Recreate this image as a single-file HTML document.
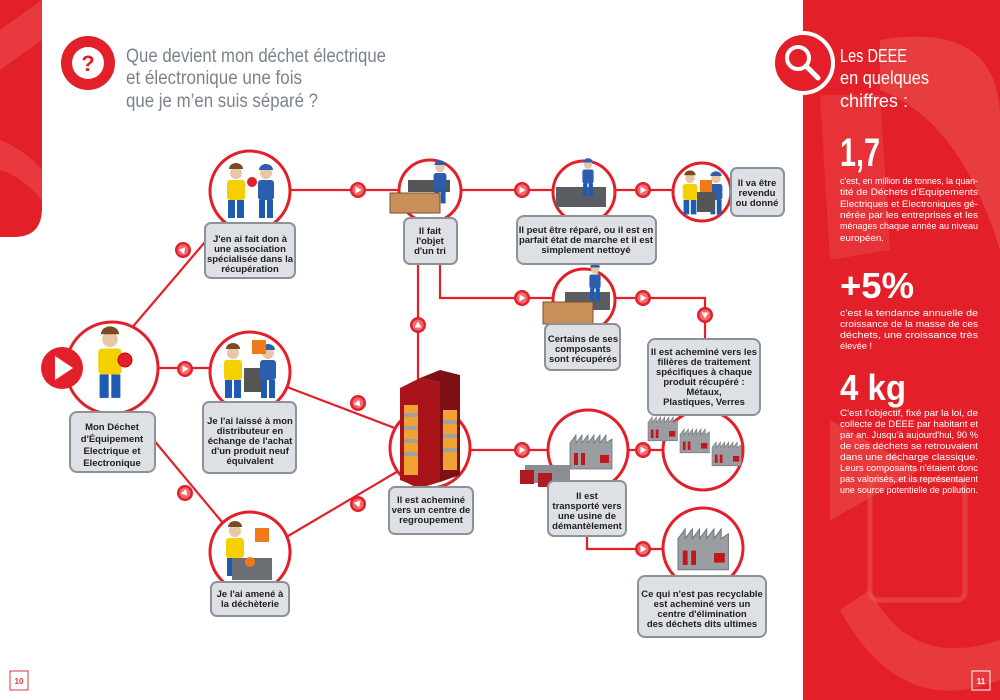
<!DOCTYPE html>
<html><head><meta charset="utf-8"><style>
html,body{margin:0;padding:0;background:#fff}
svg{display:block}
.bx{fill:#dde0e5;stroke:#8b929a;stroke-width:2}
.bt{font-family:"Liberation Sans",sans-serif;font-weight:bold;font-size:9.5px;fill:#1e1e1e;text-anchor:middle}
.ln{stroke:#e3202a;stroke-width:2.2;fill:none}
.cr{fill:#fff;stroke:#e3202a;stroke-width:3}
.wt{font-family:"Liberation Sans",sans-serif;fill:#fff}
.pt{font-family:"Liberation Sans",sans-serif;fill:#fff;font-size:9.5px}
</style></head><body>
<svg width="1000" height="700" viewBox="0 0 1000 700" xmlns="http://www.w3.org/2000/svg">
<defs>
<g id="ar"><circle r="8" fill="#e3202a"/><circle r="5.5" fill="#f06a70"/><path d="M-2.5,-3.5 L3.5,0 L-2.5,3.5Z" fill="#fff"/></g>
<g id="man"><circle cx="0" cy="-22" r="6" fill="#e8c7a5"/><path d="M-7,-26 a7,6 0 0 1 14,0z" fill="#7a4a22"/><rect x="-9" y="-15" width="18" height="20" rx="3" fill="#f5d000"/><rect x="-8" y="5" width="7" height="18" fill="#1d5bb5"/><rect x="1" y="5" width="7" height="18" fill="#1d5bb5"/></g>
<g id="wkr"><circle cx="0" cy="-22" r="6" fill="#e8c7a5"/><path d="M-7,-25 a7,6 0 0 1 14,0z" fill="#2b5fae"/><rect x="-8" y="-15" width="16" height="20" rx="3" fill="#2b5fae"/><rect x="-7" y="5" width="6" height="18" fill="#1d5bb5"/><rect x="1" y="5" width="6" height="18" fill="#1d5bb5"/></g>
<g id="fac"><path d="M0,0 L0,-22 L6,-30 L6,-22 L12,-30 L12,-22 L18,-30 L18,-22 L24,-30 L24,-22 L30,-30 L30,-22 L36,-30 L36,-22 L42,-26 L42,4 L0,4Z" fill="#9a9ea3" stroke="#6d7176" stroke-width="0.8"/><rect x="4" y="-12" width="4" height="12" fill="#c0161d"/><rect x="11" y="-12" width="4" height="12" fill="#c0161d"/><rect x="30" y="-10" width="9" height="8" fill="#c0161d"/></g>
</defs>

<!-- left strip -->
<path d="M0,0 H42 V208 Q42,237 14,237 H0Z" fill="#e3202a"/>
<path d="M0,30 L42,0 V40 L0,70Z M0,140 Q25,150 42,170 V200 Q20,175 0,170Z" fill="#ef6b63" opacity="0.35"/>

<!-- right panel -->
<rect x="803" y="0" width="197" height="700" fill="#e3202a"/>
<path d="M880,40 Q1000,20 1000,120 V250 Q960,120 880,90Z" fill="#ee5a52" opacity="0.5"/>
<path d="M820,95 L880,95 L890,250 L830,260Z" fill="#ee5a52" opacity="0.35"/>
<path d="M830,420 L920,470 L830,520Z" fill="#ee5a52" opacity="0.45"/>
<path d="M840,610 Q900,720 1000,680 V640 Q910,670 870,590Z" fill="#ee5a52" opacity="0.45"/>
<rect x="870" y="480" width="95" height="120" rx="8" fill="none" stroke="#ee5a52" stroke-width="5" opacity="0.5"/>

<!-- magnifier -->
<circle cx="803" cy="63" r="30" fill="#e3202a" stroke="#fff" stroke-width="4"/>
<circle cx="798" cy="58" r="11" fill="none" stroke="#fff" stroke-width="4"/>
<path d="M806,66 L818,78" stroke="#fff" stroke-width="5" stroke-linecap="round"/>

<text class="wt" x="840" y="62" font-size="18" textLength="67" lengthAdjust="spacingAndGlyphs">Les DEEE</text>
<text class="wt" x="840" y="84" font-size="18" textLength="89" lengthAdjust="spacingAndGlyphs">en quelques</text>
<text class="wt" x="840" y="107" font-size="18" textLength="68" lengthAdjust="spacingAndGlyphs">chiffres :</text>

<text class="wt" x="840" y="166" font-size="40" font-weight="bold" textLength="40" lengthAdjust="spacingAndGlyphs">1,7</text>
<text class="pt" x="840" y="184" textLength="138" lengthAdjust="spacingAndGlyphs">c'est, en million de tonnes, la quan-</text>
<text class="pt" x="840" y="195" textLength="138" lengthAdjust="spacingAndGlyphs">tité de Déchets d'Equipements</text>
<text class="pt" x="840" y="207" textLength="138" lengthAdjust="spacingAndGlyphs">Electriques et Electroniques gé-</text>
<text class="pt" x="840" y="218" textLength="138" lengthAdjust="spacingAndGlyphs">nérée par les entreprises et les</text>
<text class="pt" x="840" y="229" textLength="138" lengthAdjust="spacingAndGlyphs">ménages chaque année au niveau</text>
<text class="pt" x="840" y="241" textLength="44" lengthAdjust="spacingAndGlyphs">européen.</text>

<text class="wt" x="840" y="298" font-size="36" font-weight="bold" textLength="74" lengthAdjust="spacingAndGlyphs">+5%</text>
<text class="pt" x="840" y="316" textLength="138" lengthAdjust="spacingAndGlyphs">c'est la tendance annuelle de</text>
<text class="pt" x="840" y="327" textLength="138" lengthAdjust="spacingAndGlyphs">croissance de la masse de ces</text>
<text class="pt" x="840" y="338" textLength="138" lengthAdjust="spacingAndGlyphs">déchets, une croissance très</text>
<text class="pt" x="840" y="349" textLength="32" lengthAdjust="spacingAndGlyphs">élevée !</text>

<text class="wt" x="840" y="400" font-size="36" font-weight="bold" textLength="66" lengthAdjust="spacingAndGlyphs">4 kg</text>
<text class="pt" x="840" y="416" textLength="138" lengthAdjust="spacingAndGlyphs">C'est l'objectif, fixé par la loi, de</text>
<text class="pt" x="840" y="427" textLength="138" lengthAdjust="spacingAndGlyphs">collecte de DEEE par habitant et</text>
<text class="pt" x="840" y="438" textLength="138" lengthAdjust="spacingAndGlyphs">par an. Jusqu'à aujourd'hui, 90 %</text>
<text class="pt" x="840" y="449" textLength="138" lengthAdjust="spacingAndGlyphs">de ces déchets se retrouvaient</text>
<text class="pt" x="840" y="460" textLength="138" lengthAdjust="spacingAndGlyphs">dans une décharge classique.</text>
<text class="pt" x="840" y="471" textLength="138" lengthAdjust="spacingAndGlyphs">Leurs composants n'étaient donc</text>
<text class="pt" x="840" y="482" textLength="138" lengthAdjust="spacingAndGlyphs">pas valorisés, et ils représentaient</text>
<text class="pt" x="840" y="493" textLength="138" lengthAdjust="spacingAndGlyphs">une source potentielle de pollution.</text>

<rect x="972" y="671" width="18" height="19" fill="none" stroke="#fff" stroke-width="1"/>
<text class="wt" x="981" y="684" font-size="8" font-weight="bold" text-anchor="middle">11</text>
<rect x="10" y="671" width="18" height="19" fill="none" stroke="#d23a40" stroke-width="1"/>
<text x="19" y="684" font-size="8" font-weight="bold" text-anchor="middle" fill="#d23a40" font-family="Liberation Sans,sans-serif">10</text>

<!-- title -->
<circle cx="88" cy="63" r="27" fill="#e3202a"/>
<circle cx="88" cy="63" r="16" fill="#fff"/>
<text x="88" y="71" font-size="22" font-weight="bold" fill="#e3202a" text-anchor="middle" font-family="Liberation Sans,sans-serif">?</text>
<g font-family="Liberation Sans,sans-serif" font-size="19" fill="#7a838d">
<text x="126" y="62" textLength="260" lengthAdjust="spacingAndGlyphs">Que devient mon déchet électrique</text>
<text x="126" y="84" textLength="176" lengthAdjust="spacingAndGlyphs">et électronique une fois</text>
<text x="126" y="107" textLength="192" lengthAdjust="spacingAndGlyphs">que je m’en suis séparé ?</text>
</g>

<!-- lines -->
<g class="ln">
<path d="M130,330 L222,222"/>
<path d="M158,368 H212"/>
<path d="M127,408 L222,522"/>
<path d="M290,190 H400"/>
<path d="M287,387 L400,430"/>
<path d="M288,536 L400,470"/>
<path d="M418,382 V262"/>
<path d="M460,190 H553"/>
<path d="M615,190 H674"/>
<path d="M440,262 V298 H555"/>
<path d="M612,298 H705 V340"/>
<path d="M470,450 H548"/>
<path d="M628,450 H665"/>
<path d="M587,536 V549 H665"/>
</g>

<!-- circles -->
<circle class="cr" cx="112" cy="368" r="46"/>
<circle class="cr" cx="250" cy="191" r="40"/>
<circle class="cr" cx="250" cy="372" r="40"/>
<circle class="cr" cx="250" cy="552" r="40"/>
<circle class="cr" cx="430" cy="191" r="31"/>
<circle class="cr" cx="430" cy="448" r="40"/>
<circle class="cr" cx="584" cy="192" r="31"/>
<circle class="cr" cx="702" cy="192" r="29"/>
<circle class="cr" cx="584" cy="300" r="31"/>
<circle class="cr" cx="588" cy="450" r="40"/>
<circle class="cr" cx="703" cy="450" r="40"/>
<circle class="cr" cx="703" cy="548" r="40"/>

<!-- play -->
<circle cx="62" cy="368" r="21" fill="#e3202a"/>
<path d="M55,356 L73,368 L55,380Z" fill="#fff"/>

<!-- arrows -->
<use href="#ar" transform="translate(183,250) rotate(-50)"/>
<use href="#ar" transform="translate(185,369)"/>
<use href="#ar" transform="translate(185,493) rotate(50)"/>
<use href="#ar" transform="translate(358,190)"/>
<use href="#ar" transform="translate(358,403) rotate(-70)"/>
<use href="#ar" transform="translate(358,504) rotate(70)"/>
<use href="#ar" transform="translate(418,325) rotate(-90)"/>
<use href="#ar" transform="translate(522,190)"/>
<use href="#ar" transform="translate(643,190)"/>
<use href="#ar" transform="translate(522,298)"/>
<use href="#ar" transform="translate(643,298)"/>
<use href="#ar" transform="translate(705,315) rotate(90)"/>
<use href="#ar" transform="translate(522,450)"/>
<use href="#ar" transform="translate(643,450)"/>
<use href="#ar" transform="translate(643,549)"/>

<!-- icons -->
<use href="#man" transform="translate(110,368) scale(1.3)"/>
<circle cx="125" cy="360" r="7" fill="#e3202a" stroke="#c00" stroke-width="1"/>
<use href="#man" transform="translate(236,195)"/>
<use href="#wkr" transform="translate(266,195)"/>
<circle cx="252" cy="182" r="5" fill="#e3202a"/>
<use href="#man" transform="translate(233,375)"/>
<rect x="244" y="368" width="18" height="24" fill="#555"/>
<use href="#wkr" transform="translate(268,375)"/>
<rect x="252" y="340" width="14" height="14" fill="#f07a1a"/>
<use href="#man" transform="translate(235,553)"/>
<rect x="232" y="558" width="40" height="22" fill="#6b6f74"/>
<circle cx="250" cy="562" r="5" fill="#f07a1a"/>
<rect x="255" y="528" width="14" height="14" fill="#f07a1a"/>
<rect x="408" y="180" width="42" height="12" fill="#555"/>
<use href="#wkr" transform="translate(440,185) scale(0.8)"/>
<rect x="390" y="193" width="50" height="20" fill="#c89058" stroke="#7a5030"/>
<rect x="556" y="187" width="50" height="20" fill="#5a5e63"/>
<use href="#wkr" transform="translate(588,180) scale(0.7)"/>
<use href="#man" transform="translate(690,196) scale(0.8)"/>
<use href="#wkr" transform="translate(716,196) scale(0.8)"/>
<rect x="697" y="192" width="18" height="20" fill="#555"/>
<rect x="700" y="180" width="12" height="12" fill="#f07a1a"/>
<rect x="565" y="292" width="45" height="18" fill="#5a5e63"/>
<use href="#wkr" transform="translate(595,285) scale(0.7)"/>
<rect x="543" y="302" width="50" height="22" fill="#c89058" stroke="#7a5030"/>
<!-- cabinet -->
<path d="M400,388 L420,378 L440,382 L440,482 L420,488 L400,480Z" fill="#a8141a"/>
<path d="M420,378 L440,370 L460,375 L460,475 L440,482 L440,382Z" fill="#7e0f14"/>
<rect x="404" y="405" width="14" height="70" fill="#f2a030"/>
<rect x="443" y="410" width="14" height="60" fill="#f2a030"/>
<path d="M404,415 H418 M404,428 H418 M404,441 H418 M404,454 H418 M443,422 H457 M443,436 H457 M443,450 H457" stroke="#a0a0a0" stroke-width="4"/>
<!-- factories -->
<use href="#fac" transform="translate(570,465)"/>
<rect x="525" y="465" width="45" height="18" fill="#8a8d91"/>
<rect x="520" y="470" width="14" height="14" fill="#b01a20"/>
<rect x="538" y="473" width="14" height="14" fill="#b01a20"/>
<use href="#fac" transform="translate(648,438) scale(0.7)"/>
<use href="#fac" transform="translate(680,450) scale(0.7)"/>
<use href="#fac" transform="translate(712,463) scale(0.7)"/>
<use href="#fac" transform="translate(678,565) scale(1.2)"/>

<!-- boxes -->
<rect class="bx" x="70" y="412" width="85" height="60" rx="7"/>
<g class="bt" font-size="11.5">
<text x="112" y="430">Mon Déchet</text><text x="112" y="442">d'Équipement</text><text x="112" y="454">Electrique et</text><text x="112" y="466">Electronique</text></g>
<rect class="bx" x="205" y="223" width="90" height="55" rx="6"/>
<g class="bt"><text x="250" y="242">J'en ai fait don à</text><text x="250" y="252">une association</text><text x="250" y="262">spécialisée dans la</text><text x="250" y="272">récupération</text></g>
<rect class="bx" x="203" y="402" width="93" height="71" rx="6"/>
<g class="bt"><text x="250" y="424">Je l'ai laissé à mon</text><text x="250" y="434">distributeur en</text><text x="250" y="444">échange de l'achat</text><text x="250" y="454">d'un produit neuf</text><text x="250" y="464">équivalent</text></g>
<rect class="bx" x="211" y="582" width="78" height="34" rx="6"/>
<g class="bt"><text x="250" y="597">Je l'ai amené à</text><text x="250" y="607">la déchèterie</text></g>
<rect class="bx" x="404" y="218" width="53" height="46" rx="6"/>
<g class="bt"><text x="430" y="234">Il fait</text><text x="430" y="244">l'objet</text><text x="430" y="254">d'un tri</text></g>
<rect class="bx" x="389" y="487" width="84" height="47" rx="6"/>
<g class="bt"><text x="431" y="503">Il est acheminé</text><text x="431" y="513">vers un centre de</text><text x="431" y="523">regroupement</text></g>
<rect class="bx" x="517" y="216" width="139" height="48" rx="7"/>
<g class="bt"><text x="586" y="233">Il peut être réparé, ou il est en</text><text x="586" y="243">parfait état de marche et il est</text><text x="586" y="253">simplement nettoyé</text></g>
<rect class="bx" x="731" y="168" width="53" height="48" rx="6"/>
<g class="bt"><text x="757" y="186">Il va être</text><text x="757" y="196">revendu</text><text x="757" y="206">ou donné</text></g>
<rect class="bx" x="545" y="324" width="75" height="46" rx="6"/>
<g class="bt"><text x="583" y="342">Certains de ses</text><text x="583" y="352">composants</text><text x="583" y="362">sont récupérés</text></g>
<rect class="bx" x="648" y="339" width="112" height="76" rx="7"/>
<g class="bt"><text x="704" y="355">Il est acheminé vers les</text><text x="704" y="365">filières de traitement</text><text x="704" y="375">spécifiques à chaque</text><text x="704" y="385">produit récupéré :</text><text x="704" y="395">Métaux,</text><text x="704" y="405">Plastiques, Verres</text></g>
<rect class="bx" x="548" y="481" width="78" height="55" rx="6"/>
<g class="bt"><text x="587" y="499">Il est</text><text x="587" y="509">transporté vers</text><text x="587" y="519">une usine de</text><text x="587" y="529">démantèlement</text></g>
<rect class="bx" x="638" y="576" width="128" height="61" rx="7"/>
<g class="bt"><text x="702" y="597">Ce qui n'est pas recyclable</text><text x="702" y="607">est acheminé vers un</text><text x="702" y="617">centre d'élimination</text><text x="702" y="627">des déchets dits ultimes</text></g>
</svg>
</body></html>
